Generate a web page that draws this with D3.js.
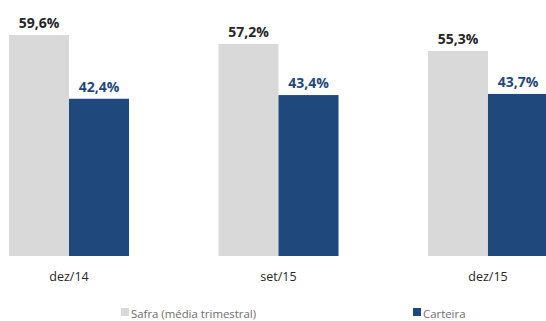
<!DOCTYPE html>
<html>
<head>
<meta charset="utf-8">
<script src="https://cdn.jsdelivr.net/npm/d3@7"></script>
<style>
  body { margin: 0; background: #fff; }
  svg { display: block; font-family: "Open Sans", sans-serif; }
</style>
</head>
<body>
<div id="chart"></div>
<script>
// Data
const categories = ["dez/14", "set/15", "dez/15"];
const seriesNames = ["Safra (média trimestral)", "Carteira"];
const safra = [59.6, 57.2, 55.3];
const carteira = [42.4, 43.4, 43.7];
const colors = ["#d9d9d9", "#1f497d"];
const labelColors = ["#262626", "#1f497d"];

const width = 546, height = 321;
const baseline = 256;

const svg = d3.select("#chart").append("svg")
    .attr("width", width)
    .attr("height", height);

// Scales
const x = d3.scaleBand()
    .domain(categories)
    .range([9, 548])
    .paddingInner(0.427)
    .paddingOuter(0);

const xs = d3.scaleBand()
    .domain([0, 1])
    .range([0, x.bandwidth()]);

const y = d3.scaleLinear()
    .domain([0, 60])
    .range([baseline, baseline - 222.5]);

const rows = categories.map((c, i) => ({ cat: c, vals: [safra[i], carteira[i]] }));

const groups = svg.selectAll(".group")
    .data(rows)
    .enter().append("g")
    .attr("transform", d => `translate(${x(d.cat)},0)`);

// Bars
groups.selectAll("rect")
    .data(d => d.vals.map((v, k) => ({ v, k })))
    .enter().append("rect")
    .attr("x", d => xs(d.k))
    .attr("y", d => y(d.v))
    .attr("width", xs.bandwidth())
    .attr("height", d => y(0) - y(d.v))
    .attr("fill", d => colors[d.k]);

// Value labels
groups.selectAll("text.val")
    .data(d => d.vals.map((v, k) => ({ v, k })))
    .enter().append("text")
    .attr("class", "val")
    .attr("x", d => xs(d.k) + xs.bandwidth() / 2)
    .attr("y", d => y(d.v) - 7)
    .attr("text-anchor", "middle")
    .style("font-size", "14px")
    .style("font-weight", "700")
    .style("fill", d => labelColors[d.k])
    .text(d => d.v.toFixed(1).replace(".", ",") + "%");

// X axis labels
const xAxis = svg.append("g")
    .attr("transform", `translate(0,${baseline})`)
    .call(d3.axisBottom(x).tickSize(0).tickPadding(16));
xAxis.select(".domain").remove();
xAxis.selectAll("text")
    .style("font-family", "Open Sans, sans-serif")
    .style("font-size", "12.5px")
    .style("fill", "#262626");

// Legend
const legendX = [121, 413];
const legend = svg.selectAll(".legend")
    .data(seriesNames)
    .enter().append("g")
    .attr("transform", (d, i) => `translate(${legendX[i]},308)`);

legend.append("rect")
    .attr("width", 8)
    .attr("height", 8)
    .attr("fill", (d, i) => colors[i]);

legend.append("text")
    .attr("x", 10)
    .attr("y", 9.5)
    .style("font-size", "11.4px")
    .style("fill", "#6d6d6d")
    .text(d => d);
</script>
</body>
</html>
